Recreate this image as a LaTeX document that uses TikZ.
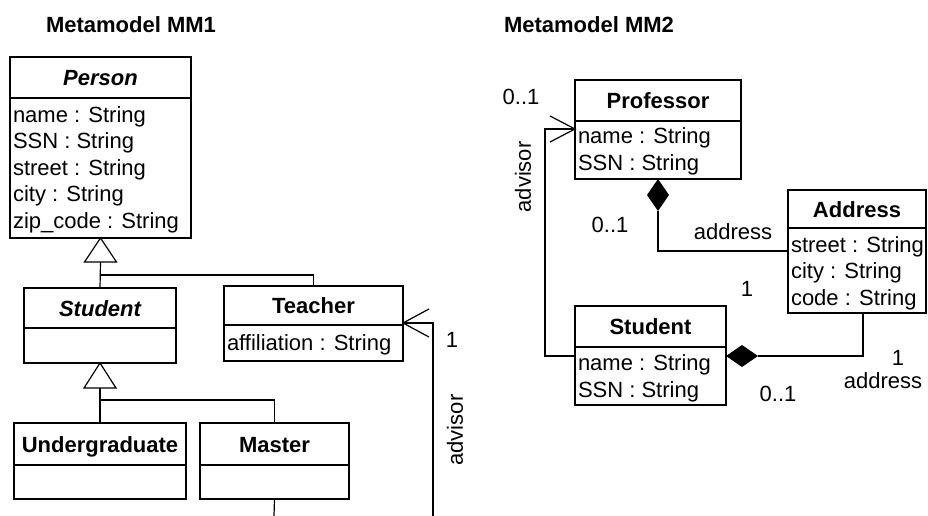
\documentclass[tikz,border=0pt]{standalone}
\usepackage{fontspec}
\setmainfont{Liberation Sans}
\begin{document}
\begin{tikzpicture}[x=1pt,y=-1pt,
  every node/.style={inner sep=0pt, outer sep=0pt, font=\fontsize{22}{26}\selectfont},
  hdr/.style={draw, line width=1.6pt, anchor=north west, text height=16pt, text depth=0pt, font=\fontsize{22}{26}\selectfont\bfseries},
  bdy/.style={draw, line width=1.6pt, anchor=north west},
  attr/.style={anchor=base west},
  conn/.style={line width=1.2pt},
  lbl/.style={anchor=center},
  ttl/.style={font=\fontsize{22}{26}\selectfont\bfseries}
]
\useasboundingbox (0,0) rectangle (928,516);

% titles
\node[ttl] (t1) at (131,25) {Metamodel MM1};
\node[ttl] (t2) at (589,25) {Metamodel MM2};

% ---------- MM1 ----------
\node[hdr, minimum width=181pt, minimum height=41pt] (personH) at (10,57) {\itshape Person};
\node[bdy, minimum width=181pt, minimum height=140pt] (personB) at (personH.south west) {};
\node[attr] (pa1) at (13,122) {name : String};
\node[attr] (pa2) at (13,148.5) {SSN : String};
\node[attr] (pa3) at (13,175) {street : String};
\node[attr] (pa4) at (13,201.5) {city : String};
\node[attr] (pa5) at (13,228) {zip\_code : String};

\node[hdr, minimum width=152pt, minimum height=40pt] (stuH) at (24,288) {\itshape Student};
\node[bdy, minimum width=152pt, minimum height=35pt] (stuB) at (stuH.south west) {};

\node[hdr, minimum width=179pt, minimum height=39pt] (teaH) at (224,286) {Teacher};
\node[bdy, minimum width=179pt, minimum height=36pt] (teaB) at (teaH.south west) {};
\node[attr] (ta1) at (227,350) {affiliation : String};

\node[hdr, minimum width=172pt, minimum height=42pt] (ugH) at (14,423) {Undergraduate};
\node[bdy, minimum width=172pt, minimum height=34pt] (ugB) at (ugH.south west) {};

\node[hdr, minimum width=149pt, minimum height=42pt] (maH) at (200,423) {Master};
\node[bdy, minimum width=149pt, minimum height=34pt] (maB) at (maH.south west) {};

% generalization Person
\draw[conn] (personB.south) -- ++(-16,24) -- ++(32,0) -- cycle;
\draw[conn] (personB.south) ++(0,24) -- (stuH.north);
\draw[conn] (personB.south) ++(0,37) -| (teaH.north);
% generalization Student
\draw[conn] (stuB.south) -- ++(-16,25) -- ++(32,0) -- cycle;
\draw[conn] (stuB.south) ++(0,25) -- (ugH.north -| stuB.south);
\draw[conn] (stuB.south) ++(0,37) -| (maH.north);

% advisor association MM1
\coordinate (tip1) at (403,323);
\coordinate (bot1) at (433,516);
\coordinate (bot2) at (274,516);
\draw[conn] (maB.south) -- (bot2);
\draw[conn] (tip1) -- (433,323) -- (bot1);
\draw[conn] (tip1) ++(26,-14) -- (tip1) -- ++(26,14);
\node[lbl] (m1) at (452,340) {1};
\node[lbl, rotate=90] (adv1) at (455,430) {advisor};

% ---------- MM2 ----------
\node[hdr, minimum width=166pt, minimum height=41pt] (profH) at (575,80) {Professor};
\node[bdy, minimum width=166pt, minimum height=58pt] (profB) at (profH.south west) {};
\node[attr] (pr1) at (578,143) {name : String};
\node[attr] (pr2) at (578,170) {SSN : String};

\node[hdr, minimum width=138pt, minimum height=38pt] (addrH) at (788,190) {Address};
\node[bdy, minimum width=138pt, minimum height=85pt] (addrB) at (addrH.south west) {};
\node[attr] (ad1) at (791,252) {street : String};
\node[attr] (ad2) at (791,278.5) {city : String};
\node[attr] (ad3) at (791,305) {code : String};

\node[hdr, minimum width=151pt, minimum height=41pt] (sH) at (575,306) {Student};
\node[bdy, minimum width=151pt, minimum height=58pt] (sB) at (sH.south west) {};
\node[attr] (s1) at (578,370) {name : String};
\node[attr] (s2) at (578,397) {SSN : String};

% advisor association MM2
\coordinate (tip2) at (575,129);
\coordinate (sl) at (575,356);
\draw[conn] (sl) -- (545,356) -- (545,129) -- (tip2);
\draw[conn] (tip2) ++(-25,-13) -- (tip2) -- ++(-25,13);
\node[lbl] (m2) at (521,97) {0..1};
\node[lbl, rotate=90] (adv2) at (523,177) {advisor};

% composition Professor - Address
\fill (profB.south) -- ++(11,16) -- ++(-11,16) -- ++(-11,-16) -- cycle;
\coordinate (aw) at (788,251);
\draw[conn] (profB.south) ++(0,32) |- (aw);
\node[lbl] (m3) at (610,225) {0..1};
\node[lbl] (r3) at (733,232) {address};
\node[lbl] (m4) at (747,289) {1};

% composition Student - Address
\coordinate (sr) at (726,356);
\fill (sr) -- ++(16,-11) -- ++(16,11) -- ++(-16,11) -- cycle;
\draw[conn] (758,356) -| (addrB.south -| 863,0);
\node[lbl] (m5) at (898,358) {1};
\node[lbl] (r5) at (883,381) {address};
\node[lbl] (m6) at (778,394) {0..1};
\end{tikzpicture}
\end{document}
